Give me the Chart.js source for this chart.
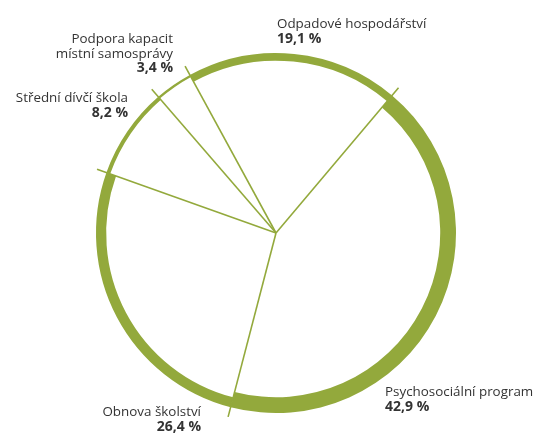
<!DOCTYPE html>
<html>
<head>
<meta charset="utf-8">
<script src="https://cdn.jsdelivr.net/npm/chart.js@4.4.1/dist/chart.umd.min.js"></script>
<style>
  html, body { margin: 0; padding: 0; background: #fff; }
  #wrap { width: 535px; height: 433px; }
</style>
</head>
<body>
<div id="wrap"><canvas id="shareChart"></canvas></div>
<script>
// data, clockwise from the top
const categories = [
    ['Odpadové hospodářství'],
    ['Psychosociální program'],
    ['Obnova školství'],
    ['Střední dívčí škola'],
    ['Podpora kapacit', 'místní samosprávy']
];
const shares = [19.1, 42.9, 26.4, 8.2, 3.4];

// styling
const GREEN = '#93a93c';
const TEXT = '#333333';
const START_DEG = -28.6;
// label anchors: [x, baseline y, align]
const labelPos = [
    [277, 28, 'left'],
    [385, 396, 'left'],
    [201, 416, 'right'],
    [128, 102, 'right'],
    [173, 43, 'right']
];
const LINE_H = 14.5;

// ring gets thicker with the share
const ringWidth = v => 1.2 + v * 0.34;
const fmt = v => v.toFixed(1).replace('.', ',') + ' %';

const ringPlugin = {
    id: 'ring',
    beforeDatasetsDraw(chart) {
        const meta = chart.getDatasetMeta(0);
        meta.data.forEach((arc, i) => {
            arc.innerRadius = arc.outerRadius - ringWidth(shares[i]);
        });
    },
    afterDatasetsDraw(chart) {
        const ctx = chart.ctx;
        const meta = chart.getDatasetMeta(0);
        ctx.save();
        ctx.strokeStyle = GREEN;
        ctx.lineWidth = 1.6;
        meta.data.forEach(arc => {
            const r = arc.outerRadius + 10;
            ctx.beginPath();
            ctx.moveTo(arc.x, arc.y);
            ctx.lineTo(arc.x + Math.cos(arc.startAngle) * r, arc.y + Math.sin(arc.startAngle) * r);
            ctx.stroke();
        });
        // labels
        ctx.fillStyle = TEXT;
        ctx.textBaseline = 'alphabetic';
        categories.forEach((lines, i) => {
            const [x, y, align] = labelPos[i];
            ctx.textAlign = align;
            ctx.font = '13.4px "Open Sans"';
            lines.forEach((t, k) => ctx.fillText(t, x, y + k * LINE_H));
            ctx.font = 'bold 14px "Open Sans"';
            ctx.fillText(fmt(shares[i]), x, y + lines.length * LINE_H);
        });
        ctx.restore();
    }
};

new Chart(document.getElementById('shareChart'), {
    type: 'doughnut',
    data: {
        labels: categories.map(c => c.join(' ')),
        datasets: [{
            data: shares,
            backgroundColor: GREEN,
            borderWidth: 0
        }]
    },
    options: {
        responsive: true,
        maintainAspectRatio: false,
        animation: false,
        rotation: START_DEG,
        cutout: '90%',
        layout: {
            padding: { top: 53, bottom: 20, left: 96, right: 79 }
        },
        events: [],
        plugins: {
            legend: { display: false },
            tooltip: { enabled: false }
        }
    },
    plugins: [ringPlugin]
});
</script>
</body>
</html>
